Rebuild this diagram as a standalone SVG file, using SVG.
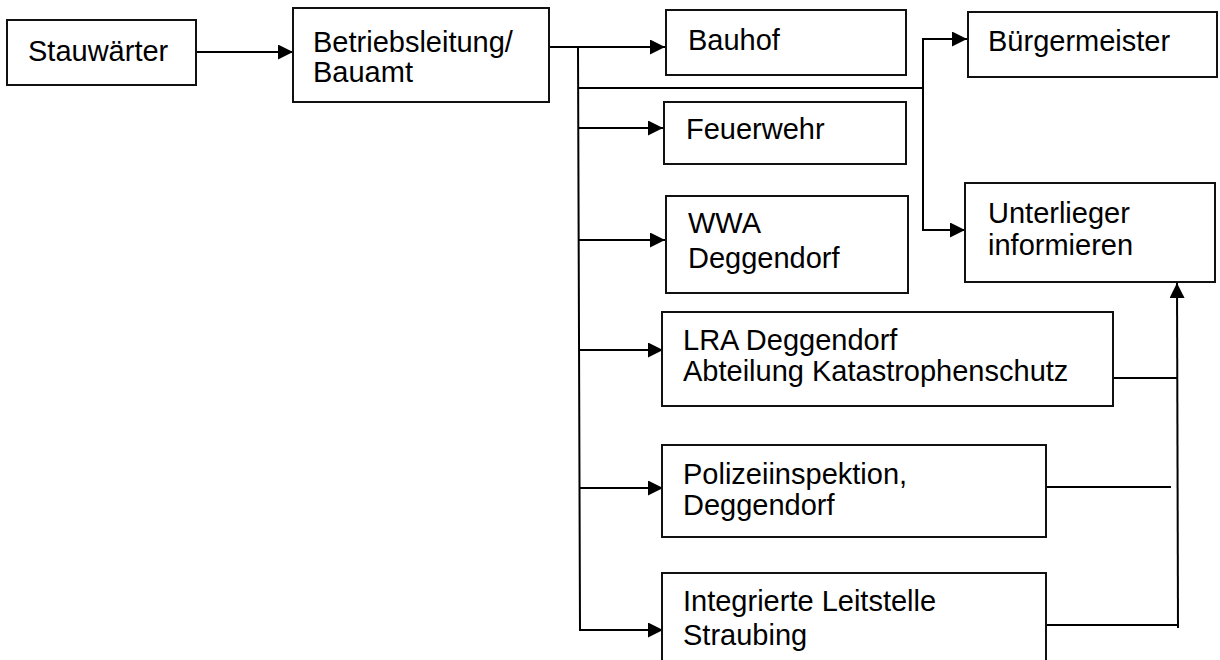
<svg xmlns="http://www.w3.org/2000/svg" width="1220" height="660" viewBox="0 0 1220 660">
<style>
.box{fill:#fff;stroke:#111;stroke-width:2}
.t{font-family:"Liberation Sans",Arial,sans-serif;font-size:29px;fill:#000}
.c{fill:none;stroke:#000;stroke-width:2}
.ca{fill:none;stroke:#000;stroke-width:2;marker-end:url(#ah)}
</style>
<defs>
<marker id="ah" markerUnits="userSpaceOnUse" markerWidth="16" markerHeight="15" refX="15" refY="7.5" orient="auto">
<path d="M0,0 L15,7.5 L0,15 z" fill="#000"/>
</marker>
</defs>
<rect width="1220" height="660" fill="#fff"/>
<g id="connectors">
<path class="ca" d="M196,52 H293"/>
<path class="c" d="M549,47 H578 L580,630"/>
<path class="ca" d="M578,47 H665"/>
<path class="c" d="M578,88 H923"/>
<path class="c" d="M923,39 V230"/>
<path class="ca" d="M922,39 H967"/>
<path class="ca" d="M922,230 H965"/>
<path class="ca" d="M578,128 H663"/>
<path class="ca" d="M579,240 H665"/>
<path class="ca" d="M579,350 H663"/>
<path class="ca" d="M580,488 H663"/>
<path class="ca" d="M579,630 H663"/>
<path class="c" d="M1113,378 H1177"/>
<path class="c" d="M1046,487 H1171"/>
<path class="c" d="M1046,625 H1178"/>
<path class="ca" d="M1178,628 L1177,283"/>
</g>
<g id="stauwaerter">
<rect class="box" x="7" y="20" width="189" height="65"/>
<text class="t" x="28" y="61">Stauwärter</text>
</g>
<g id="betriebsleitung">
<rect class="box" x="293" y="8" width="256" height="94"/>
<text class="t" x="313" y="52">Betriebsleitung/</text>
<text class="t" x="313" y="82">Bauamt</text>
</g>
<g id="bauhof">
<rect class="box" x="666" y="10" width="240" height="65"/>
<text class="t" x="688" y="50">Bauhof</text>
</g>
<g id="buergermeister">
<rect class="box" x="968" y="12" width="249" height="65"/>
<text class="t" x="988" y="51">Bürgermeister</text>
</g>
<g id="feuerwehr">
<rect class="box" x="664" y="102" width="242" height="62"/>
<text class="t" x="686" y="139">Feuerwehr</text>
</g>
<g id="wwa">
<rect class="box" x="666" y="196" width="242" height="97"/>
<text class="t" x="688" y="233">WWA</text>
<text class="t" x="688" y="268">Deggendorf</text>
</g>
<g id="unterlieger">
<rect class="box" x="965" y="183" width="250" height="99"/>
<text class="t" x="988" y="223">Unterlieger</text>
<text class="t" x="988" y="255">informieren</text>
</g>
<g id="lra">
<rect class="box" x="662" y="312" width="451" height="94"/>
<text class="t" x="683" y="350">LRA Deggendorf</text>
<text class="t" x="683" y="381">Abteilung Katastrophenschutz</text>
</g>
<g id="polizei">
<rect class="box" x="662" y="445" width="384" height="92"/>
<text class="t" x="683" y="484">Polizeiinspektion,</text>
<text class="t" x="683" y="515">Deggendorf</text>
</g>
<g id="leitstelle">
<rect class="box" x="662" y="573" width="384" height="100"/>
<text class="t" x="683" y="611">Integrierte Leitstelle</text>
<text class="t" x="683" y="645">Straubing</text>
</g>
</svg>
